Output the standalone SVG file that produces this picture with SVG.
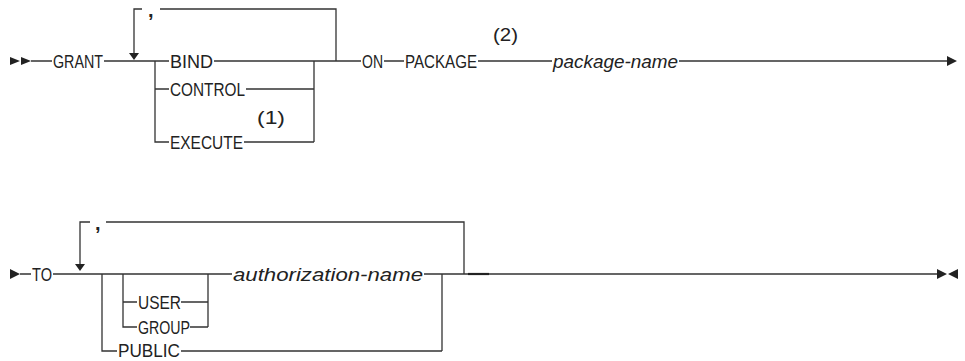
<svg xmlns="http://www.w3.org/2000/svg" width="965" height="361" viewBox="0 0 965 361">
<style>
.l{stroke:#333;stroke-width:1.3;fill:none}
.a{fill:#222;stroke:none}
text{font-family:"Liberation Sans",Arial,sans-serif;font-size:18px;fill:#222}
.i{font-style:italic}
.c{font-weight:bold;font-size:20px}
</style>
<rect width="965" height="361" fill="#fff"/>
<g id="connectors">
<path class="l" d="M31 61H52 M104 61H169 M214 61H361 M155 61V142H169 M155 89H169 M246 89H314 M244 142H314 M314 61V142 M336 61V9H160 M142 9H134V53 M384 61H404 M478 61H552 M679 61H947"/>
<path class="a" d="M10 57L20 61L10 65Z M21 57L31 61L21 65Z M129 53H139L134 60Z M947 56L957 61L947 66Z"/>
<path class="l" d="M20 274H31 M53 274H232 M102 274V351H117 M123 274V327H137 M123 302H137 M181 302H208 M190 327H208 M208 274V327 M424 274H937 M181 351H442 M442 274V351 M464 274V222H106 M90 222H80V264"/>
<path class="a" d="M10 269L20 274L10 279Z M75 264H85L80 271Z M937 269L947 274L937 279Z M958 269L948 274L958 279Z"/>
<path d="M468 274H489" stroke="#222" stroke-width="2.2"/>
</g>
<g id="row1">
<text x="53" y="68" textLength="50" lengthAdjust="spacingAndGlyphs">GRANT</text>
<text class="c" x="148" y="17">,</text>
<text x="170" y="68" textLength="43" lengthAdjust="spacingAndGlyphs">BIND</text>
<text x="170" y="96" textLength="75" lengthAdjust="spacingAndGlyphs">CONTROL</text>
<text x="257" y="124" textLength="28" lengthAdjust="spacingAndGlyphs">(1)</text>
<text x="170" y="149" textLength="73" lengthAdjust="spacingAndGlyphs">EXECUTE</text>
<text x="362" y="68" textLength="21" lengthAdjust="spacingAndGlyphs">ON</text>
<text x="405" y="68" textLength="72" lengthAdjust="spacingAndGlyphs">PACKAGE</text>
<text x="493" y="41" textLength="25" lengthAdjust="spacingAndGlyphs">(2)</text>
<text class="i" x="553" y="68" textLength="125" lengthAdjust="spacingAndGlyphs">package-name</text>
</g>
<g id="row2">
<text x="32" y="281" textLength="20" lengthAdjust="spacingAndGlyphs">TO</text>
<text class="c" x="95" y="230">,</text>
<text x="138" y="309" textLength="43" lengthAdjust="spacingAndGlyphs">USER</text>
<text x="138" y="334" textLength="52" lengthAdjust="spacingAndGlyphs">GROUP</text>
<text x="118" y="357" textLength="62" lengthAdjust="spacingAndGlyphs">PUBLIC</text>
<text class="i" x="233" y="281" textLength="190" lengthAdjust="spacingAndGlyphs">authorization-name</text>
</g>
</svg>
